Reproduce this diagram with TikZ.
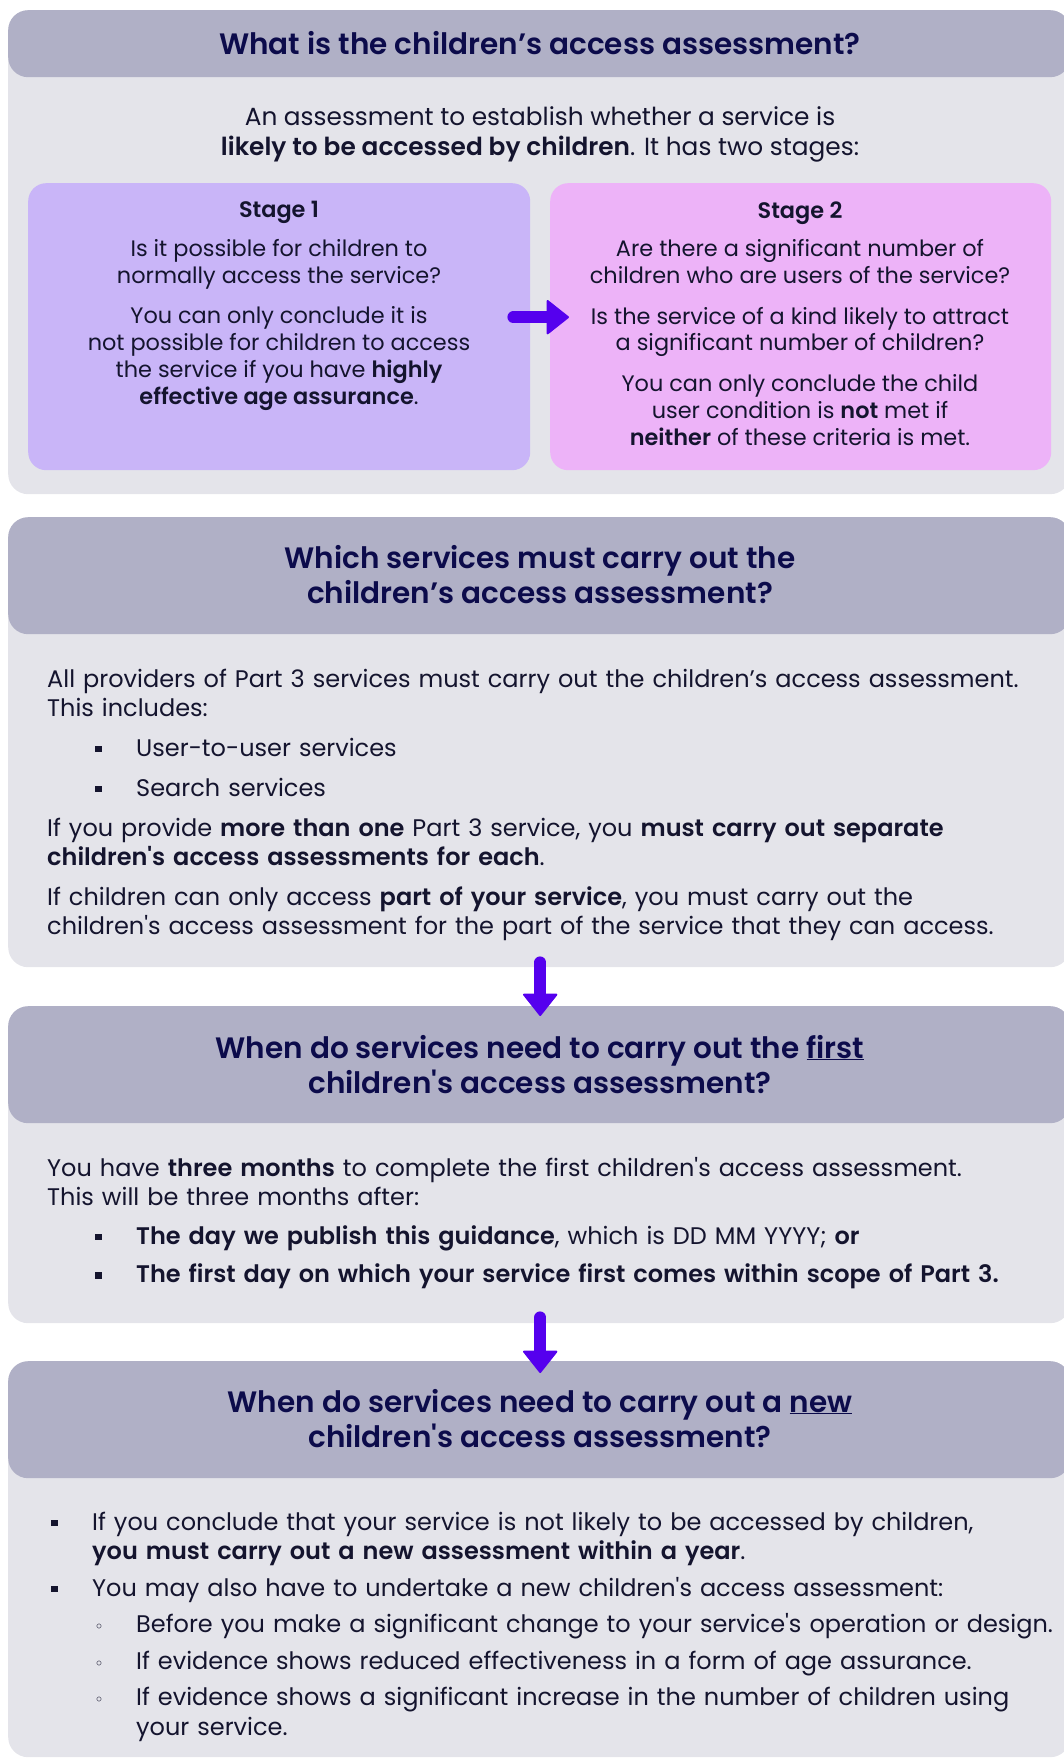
\documentclass[tikz,border=0pt]{standalone}
\usepackage{fontspec}
\setmainfont{Poppins}[BoldFont={* SemiBold}]
\usetikzlibrary{arrows.meta}
\definecolor{headc}{HTML}{B0B0C6}
\definecolor{bodyc}{HTML}{E4E4EA}
\definecolor{stageac}{HTML}{C9B5F8}
\definecolor{stagebc}{HTML}{EDB3F8}
\definecolor{arrowc}{HTML}{5500EE}
\definecolor{titlec}{HTML}{0C0B4B}
\definecolor{inkc}{HTML}{14142E}
\newcommand{\ap}{\textquotesingle}
\newcommand{\paras}[1]{\parindent=0pt\parskip=#1\relax}
\newcommand{\sqmark}{\llap{\rule[4pt]{6.5pt}{6.5pt}\hspace{34.5pt}}}
\newcommand{\rdmark}{\llap{\raisebox{3pt}{\fontsize{13}{13}\selectfont$\circ$}\hspace{34pt}}}
\newcommand{\listitem}[3]{{\leftskip=#1\relax\noindent#2#3\par}}
\tikzstyle{panel} = [anchor=north west, inner sep=0, fill=bodyc,
  rounded corners=20pt, minimum width=1062pt]
\tikzstyle{stage} = [anchor=north west, inner sep=0, rounded corners=18pt,
  minimum height=287pt]
\tikzset{
  head/.style={path picture={
    \fill[headc] (path picture bounding box.north west)
      rectangle ([yshift=-#1]path picture bounding box.north east);}},
  titletxt/.style={anchor=base, inner sep=0, align=center, text=titlec,
    font=\bfseries\fontsize{29.5}{35}\selectfont},
  bodytxt/.style={anchor=base west, inner sep=0, text width=1100pt, align=left,
    font=\fontsize{24}{29}\selectfont},
  stagetxt/.style={anchor=base, inner sep=0, align=center,
    font=\fontsize{22.4}{26.7}\selectfont},
  bigarrow/.style={draw=arrowc, line width=12pt, line cap=round,
    -{Triangle[width=36pt, length=23pt, round, line width=2pt]}},
}

\begin{document}
\begin{tikzpicture}[x=1pt, y=-1pt, text=inkc]
  \useasboundingbox (0,0) rectangle (1063,1758);

  % Panels
  \node[panel, head=67pt, minimum height=484pt] (boxA) at (8,10) {};
  \node[panel, head=117pt, minimum height=450pt] (boxB) at (8,517) {};
  \node[panel, head=117pt, minimum height=317pt] (boxC) at (8,1006) {};
  \node[panel, head=117pt, minimum height=396pt] (boxD) at (8,1361) {};

  % Stages
  \node[stage, fill=stageac, minimum width=502pt] (stage1) at (28,183) {};
  \node[stage, fill=stagebc, minimum width=501pt] (stage2) at (550,183) {};

  % Arrows
  \draw[bigarrow] ([xshift=-17pt, yshift=9.5pt]stage1.east)
    -- ([xshift=19pt, yshift=9.5pt]stage2.west);
  \draw[bigarrow] ([xshift=1pt, yshift=5pt]boxB.south)
    -- ([xshift=1pt, yshift=-10pt]boxC.north);
  \draw[bigarrow] ([xshift=1pt, yshift=6pt]boxC.south)
    -- ([xshift=1pt, yshift=-12pt]boxD.north);

  % Panel A (multi-line nodes sit on their last line)
  \node[titletxt] (titleA) at (540,55) {What is the children’s access assessment?};
  \node[stagetxt, font=\fontsize{24.8}{30}\selectfont] (introA) at (540,155)
    {An assessment to establish whether a service is\\
     \textbf{likely to be accessed by children}. It has two stages:};
  \node[stagetxt] (stage1txt) at (279,404)
    {\textbf{Stage 1}\\[12pt]
     Is it possible for children to\\normally access the service?\\[14pt]
     You can only conclude it is\\not possible for children to access\\
     the service if you have \textbf{highly}\\\textbf{effective age assurance}.};
  \node[stagetxt] (stage2txt) at (800,445)
    {\textbf{Stage 2}\\[12pt]
     Are there a significant number of\\children who are users of the service?\\[14pt]
     Is the service of a kind likely to attract\\a significant number of children?\\[14pt]
     You can only conclude the child\\user condition is \textbf{not} met if\\
     \textbf{neither} of these criteria is met.};

  % Panel B
  \node[titletxt] (titleB) at (540,603)
    {Which services must carry out the\\children’s access assessment?};
  \node[bodytxt] (bodyB) at (47,687)
    {\paras{11pt}All providers of Part 3 services must carry out the children’s access assessment.\\
     This includes:\par
     \listitem{89pt}{\sqmark}{User-to-user services}
     \listitem{89pt}{\sqmark}{Search services}
     If you provide \textbf{more than one} Part 3 service, you \textbf{must carry out separate}\\
     \textbf{children\ap s access assessments for each}.\par
     If children can only access \textbf{part of your service}, you must carry out the\\
     children\ap s access assessment for the part of the service that they can access.};

  % Panel C
  \node[titletxt] (titleC) at (540,1093)
    {When do services need to carry out the \underline{first}\\children\ap s access assessment?};
  \node[bodytxt, font=\fontsize{24}{29.5}\selectfont] (bodyC) at (47,1176)
    {\paras{9pt}You have \textbf{three months} to complete the first children\ap s access assessment.\\
     This will be three months after:\par
     \listitem{89pt}{\sqmark}{\textbf{The day we publish this guidance}, which is DD MM YYYY; \textbf{or}}
     \listitem{89pt}{\sqmark}{\textbf{The first day on which your service first comes within scope of Part 3.}}};

  % Panel D
  \node[titletxt] (titleD) at (540,1447)
    {When do services need to carry out a \underline{new}\\children\ap s access assessment?};
  \node[bodytxt, font=\fontsize{24}{29.5}\selectfont] (bodyD) at (47,1530)
    {\paras{7pt}%
     \listitem{45pt}{\sqmark}{If you conclude that your service is not likely to be accessed by children,\\
       \textbf{you must carry out a new assessment within a year}.}
     \listitem{45pt}{\sqmark}{You may also have to undertake a new children\ap s access assessment:}
     \listitem{89pt}{\rdmark}{Before you make a significant change to your service\ap s operation or design.}
     \listitem{89pt}{\rdmark}{If evidence shows reduced effectiveness in a form of age assurance.}
     \listitem{89pt}{\rdmark}{If evidence shows a significant increase in the number of children using\\
       your service.}};
\end{tikzpicture}
\end{document}
